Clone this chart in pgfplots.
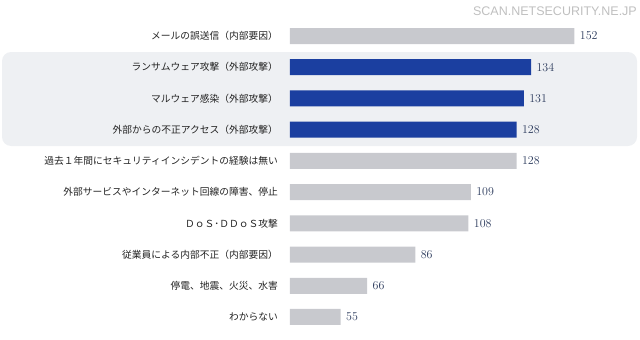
\documentclass[border=0pt]{standalone}
\usepackage{pgfplots}
\pgfplotsset{compat=1.18}
\usepackage{fontspec}
\setmainfont{Noto Sans CJK JP}
\newfontfamily\numfont{Liberation Serif}
\newfontfamily\wmfont{Liberation Sans}
\definecolor{barblue}{HTML}{1B3FA0}
\definecolor{bargray}{HTML}{C8C9CE}
\definecolor{hlbg}{HTML}{EEF0F3}
\definecolor{valcol}{HTML}{2B3A5C}
\definecolor{labcol}{HTML}{222222}
\begin{document}
\begin{tikzpicture}[x=1pt,y=1pt]
\path[use as bounding box] (0,0) rectangle (640,-340);
\fill[hlbg, rounded corners=9pt] (2,-52) rectangle (637,-146);
\node[anchor=east, text=gray!50, font=\wmfont\fontsize{12.5}{12.5}\selectfont, inner sep=0] at (637,-11) {SCAN.NETSECURITY.NE.JP};
\begin{axis}[
  at={(290pt,-20.4pt)}, anchor=north west,
  scale only axis, width=330pt, height=312.2pt,
  xmin=34, xmax=170.9,
  ymin=-0.5, ymax=9.5, y dir=reverse,
  xbar, bar width=16pt, bar shift=0pt,
  axis line style={draw=none}, major tick length=0pt,
  xtick=\empty,
  ytick={0,...,9},
  yticklabels={
    メールの誤送信（内部要因）,
    ランサムウェア攻撃（外部攻撃）,
    マルウェア感染（外部攻撃）,
    外部からの不正アクセス（外部攻撃）,
    過去１年間にセキュリティインシデントの経験は無い,
    外部サービスやインターネット回線の障害、停止,
    ＤｏＳ･ＤＤｏＳ攻撃,
    従業員による内部不正（内部要因）,
    停電、地震、火災、水害,
    わからない},
  yticklabel style={font=\fontsize{9.75}{10}\selectfont, text=labcol, inner sep=0pt, xshift=-12pt},
  nodes near coords,
  every node near coord/.append style={font=\numfont\fontsize{11.5}{11.5}\selectfont, text=valcol, anchor=west, xshift=2pt},
  clip=false,
]
\addplot[fill=bargray, draw=none] coordinates {(152,0) (128,4) (109,5) (108,6) (86,7) (66,8) (55,9)};
\addplot[fill=barblue, draw=none] coordinates {(134,1) (131,2) (128,3)};
\end{axis}
\end{tikzpicture}
\end{document}
